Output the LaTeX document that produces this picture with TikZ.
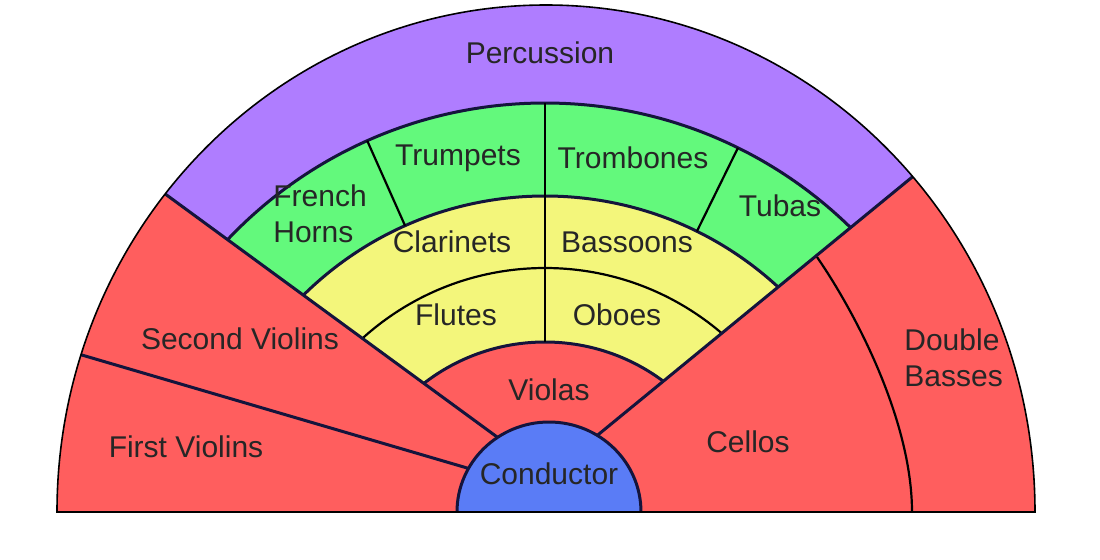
\documentclass[tikz,border=0pt]{standalone}
\usepackage{fontspec}
\setmainfont{Liberation Sans}
\usetikzlibrary{positioning}
\definecolor{strings}{HTML}{FF5E5E}
\definecolor{percussion}{HTML}{AF7DFF}
\definecolor{brass}{HTML}{63F97C}
\definecolor{woodwind}{HTML}{F3F67B}
\definecolor{podium}{HTML}{5A7CF6}
\definecolor{ink}{HTML}{14143C}

\begin{document}
\begin{tikzpicture}[x=0.5pt,y=-0.5pt,
  seam/.style={draw=ink,line width=1.5pt},
  split/.style={draw=black,line width=1.1pt},
  rim/.style={draw=black,line width=0.8pt},
  lbl/.style={font=\fontsize{15}{18}\selectfont,text=black!85,inner sep=0pt,align=center},
  lbll/.style={lbl,align=left,anchor=west}]
  \useasboundingbox (0,0) rectangle (1100,559);
  \coordinate (o) at (545,540);
  % hall floor and sections
  \begin{scope}
    \clip (0,0) rectangle (1100,512);
    \clip (546,512) ellipse [x radius=489, y radius=507];
    \fill[strings] (0,0) rectangle (1100,512);
    \begin{scope}
      \clip (549,475) -- (0,73) -- (0,0) -- (1100,0) -- (1100,23) -- cycle;
      \fill[percussion] (0,0) rectangle (1100,512);
      \fill[brass] (o) circle (437);
      \fill[woodwind] (o) circle (344);
      \fill[strings] (o) circle (198);
      \draw[seam] (o) circle (437);
      \draw[seam] (o) circle (344);
      \draw[split] (o) circle (272);
      \draw[seam] (o) circle (198);
      \draw[split] ([shift={(-90:198)}]o) -- ([shift={(-90:437)}]o);
      \draw[split] ([shift={(-114:344)}]o) -- ([shift={(-114:437)}]o);
      \draw[split] ([shift={(-63.8:344)}]o) -- ([shift={(-63.8:437)}]o);
    \end{scope}
    \draw[seam] (549,475) -- (0,73);
    \draw[seam] (549,475) -- (1100,23);
    \draw[seam] (549,492) -- (0,331);
    \draw[split] (817,257) .. controls (855,312) and (912,420) .. (912,512);
  \end{scope}
  % conductor and outline
  \begin{scope}
    \clip (0,0) rectangle (1100,512);
    \draw[seam,fill=podium] (549,512) ellipse [x radius=92, y radius=90];
    \draw[rim] (546,512) ellipse [x radius=489, y radius=507];
  \end{scope}
  \draw[rim] (57,512) -- (1035,512);
  % labels
  \node[lbl] (perc) at (540,53) {Percussion};
  \node[lbl] (trp) at (458,158) {Trumpets};
  \node[lbl] (trb) at (633,158) {Trombones};
  \node[lbll] (hrn) at (273,214) {French\\Horns};
  \node[lbl] (tba) at (780,206) {Tubas};
  \node[lbl] (cla) at (452,242) {Clarinets};
  \node[lbl] (bsn) at (627,242) {Bassoons};
  \node[lbl] (flt) at (456,315) {Flutes};
  \node[lbl] (obo) at (617,315) {Oboes};
  \node[lbl] (vla) at (549,390) {Violas};
  \node[lbl] (cnd) at (549,474) {Conductor};
  \node[lbl] (vn2) at (240,339) {Second Violins};
  \node[lbl] (vn1) at (186,447) {First Violins};
  \node[lbl] (vc) at (748,442) {Cellos};
  \node[lbll] (db) at (904,358) {Double\\Basses};
\end{tikzpicture}
\end{document}
